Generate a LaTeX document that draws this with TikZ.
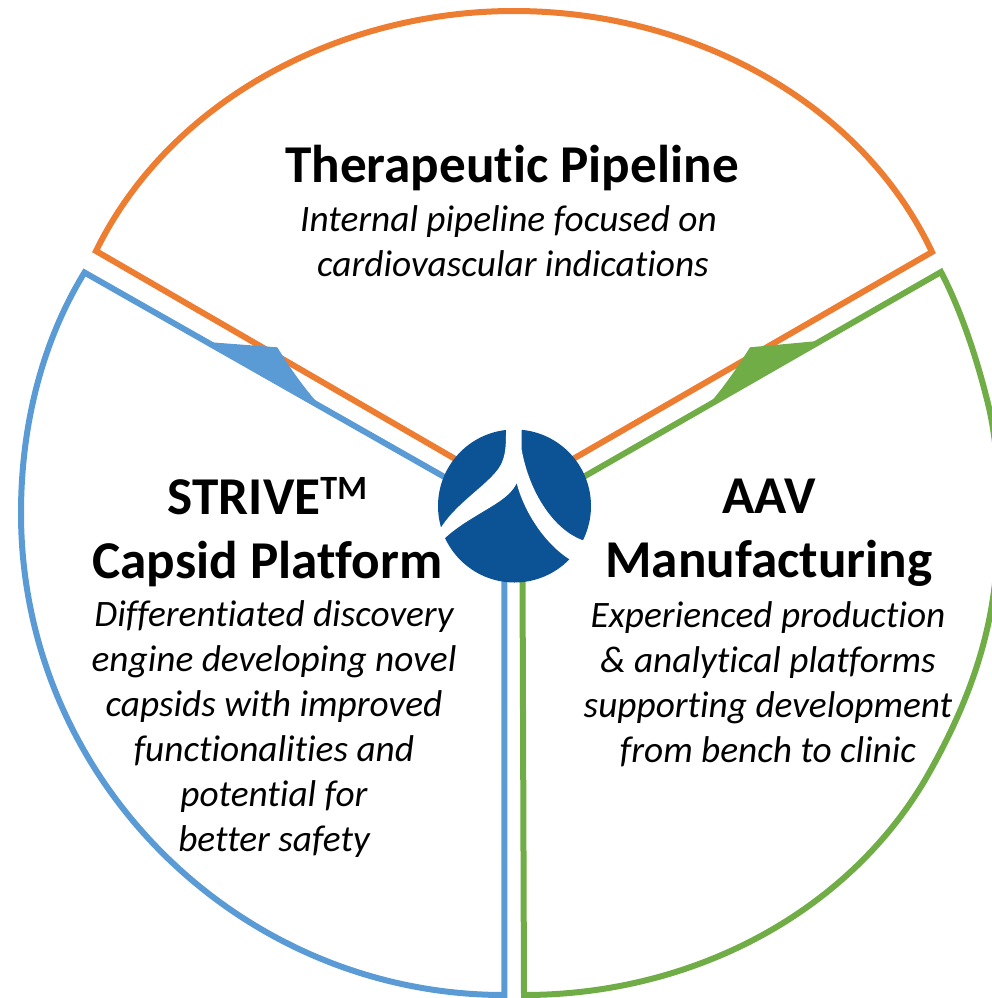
\documentclass[tikz,border=0pt]{standalone}
\usepackage{fontspec}
\setmainfont[Ligatures=NoCommon]{Carlito}
\definecolor{orangeC}{HTML}{ED7D31}
\definecolor{blueC}{HTML}{5B9BD5}
\definecolor{greenC}{HTML}{70AD47}
\definecolor{logoC}{HTML}{0C5396}
\tikzset{
 orangeline/.style={draw=orangeC,line width=6pt,line join=miter},
 blueline/.style={draw=blueC,line width=6pt,line join=miter},
 greenline/.style={draw=greenC,line width=6pt,line join=miter},
 heading/.style={font=\fontsize{53.2}{64}\selectfont\bfseries,align=center,text=black,inner sep=0pt},
 descr/.style={font=\fontsize{37.3}{45}\selectfont\itshape,align=center,text=black,inner sep=0pt},
}
\begin{document}
\begin{tikzpicture}[x=1pt,y=-1pt]
\useasboundingbox (0,0) rectangle (992,998);
% orange
\coordinate (oa) at (96,251);
\coordinate (ob) at (932,252);
\coordinate (oc) at (514,493);
\path[orangeline] (oc) -- (oa) .. controls (170,100) and (340,11) .. (514,11) .. controls (690,11) and (860,100) .. (ob) -- cycle;
% blue
\coordinate (ba) at (84.5,272.5);
\coordinate (bb) at (504.3,995);
\coordinate (bc) at (504.3,511);
\path[blueline] (bc) -- (ba) .. controls (40,345) and (21,430) .. (21,513) .. controls (21,780) and (240,995) .. (bb) -- cycle;
\path[fill=blueC] (207,342) -- (277.3,347.3) .. controls (290,368) and (304,388) .. (319,404.5) -- cycle;
% green
\coordinate (ga) at (941,272);
\coordinate (gb) at (524,995);
\coordinate (gc) at (522.3,512);
\path[greenline] (gc) -- (ga) .. controls (962,312) and (979,365) .. (989.5,410)
  .. controls (997,445) and (999,480) .. (999,514)
  .. controls (999,550) and (996,585) .. (989.5,618)
  .. controls (978,675) and (955,728) .. (925,780)
  .. controls (845,915) and (690,995) .. (gb) -- cycle;
\path[fill=greenC] (818,341) -- (750,347.3) .. controls (737,368) and (724,387) .. (709,404) -- cycle;
% logo
\node[circle,fill=logoC,minimum size=153pt,inner sep=0pt] (logo) at (514.5,506) {};
\path[fill=white] (506,425) -- (506,435) .. controls (506,455) and (503,464) .. (495,473)
 .. controls (480,490) and (455,505) .. (440,529) -- (436,533) -- (445,538)
 .. controls (460,524) and (480,514) .. (497,503)
 .. controls (506,497) and (513,491) .. (516.7,483)
 .. controls (522,505) and (540,540) .. (569,559)
 -- (575,563) -- (586,540) -- (582,540)
 .. controls (555,530) and (530,495) .. (521.7,450) -- (521.7,425) -- cycle;
% text
\node[heading] (t1) at (512,168) {Therapeutic Pipeline};
\node[descr] (d1) at (508.5,241) {Internal pipeline focused on\\\hspace*{9pt}cardiovascular indications};
\node[heading] (t2) at (267.5,532.5) {STRIVE\raisebox{15pt}{\fontsize{34}{34}\selectfont TM}\\Capsid Platform};
\node[descr] (d2) at (274,729) {Differentiated discovery\\engine developing novel\\capsids with improved\\functionalities and\\potential for\\better safety};
\node[heading] (t3) at (769,532.5) {AAV\\Manufacturing};
\node[descr] (d3) at (768,684) {Experienced production\\\& analytical platforms\\supporting development\\from bench to clinic};
\end{tikzpicture}
\end{document}
